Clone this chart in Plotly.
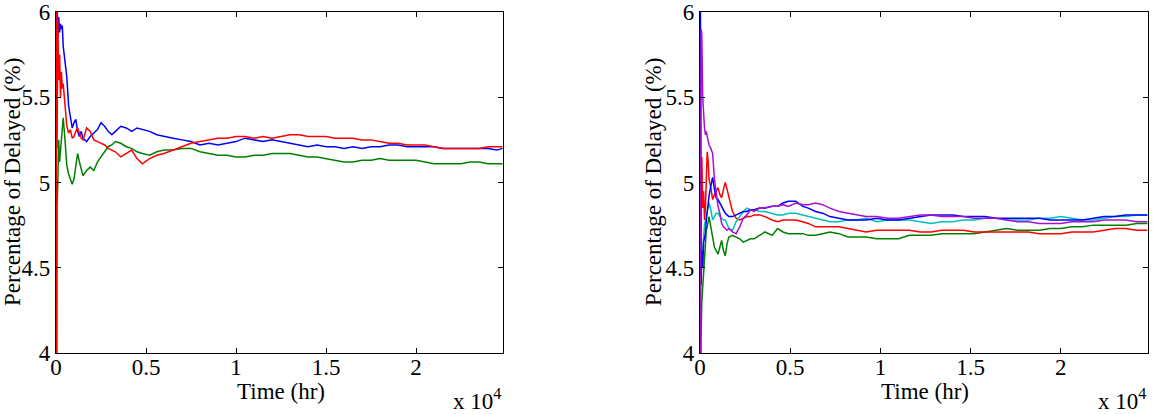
import plotly.graph_objects as go

# ---------------- data (hours, percent) ----------------
t_left = [0, 30, 60, 100, 150, 200, 250, 300, 350, 400, 500, 600, 700, 800, 900, 1000, 1100, 1200, 1300, 1400,
          1500, 1700, 1900, 2100, 2300, 2500, 2700, 2900, 3100, 3300, 3600, 3900, 4200, 4500, 4800, 5200, 5600,
          6000, 6500, 7000, 7500, 8000, 8500, 9000, 9500, 10000, 10500, 11000, 11500, 12000, 12500, 13000, 13500,
          14000, 14500, 15000, 15500, 16000, 16500, 17000, 17500, 18000, 18500, 19000, 19500, 20000, 20500, 21000,
          21500, 22000, 22500, 23000, 23500, 24000, 24500, 24800]

left_blue = [8.0, 6.4, 6.1, 5.85, 5.97, 5.88, 5.93, 5.90, 5.92, 5.80, 5.72, 5.62, 5.45, 5.38, 5.32, 5.35, 5.37, 5.30,
             5.27, 5.30, 5.26, 5.24, 5.27, 5.29, 5.31, 5.35, 5.33, 5.30, 5.28, 5.30, 5.33, 5.32, 5.30, 5.32, 5.31,
             5.30, 5.28, 5.27, 5.26, 5.25, 5.24, 5.22, 5.23, 5.22, 5.23, 5.24, 5.26, 5.25, 5.24, 5.25, 5.24, 5.23,
             5.22, 5.21, 5.22, 5.21, 5.21, 5.20, 5.21, 5.20, 5.21, 5.21, 5.22, 5.22, 5.21, 5.21, 5.21, 5.21, 5.20,
             5.20, 5.20, 5.20, 5.20, 5.20, 5.19, 5.20]

left_green = [0.0, 3.5, 4.87, 5.0, 5.25, 5.12, 5.19, 5.22, 5.33, 5.38, 5.25, 5.10, 5.05, 5.02, 4.99, 5.02, 5.10, 5.17,
              5.12, 5.08, 5.04, 5.07, 5.09, 5.07, 5.12, 5.15, 5.18, 5.21, 5.22, 5.24, 5.23, 5.21, 5.20, 5.18, 5.17,
              5.16, 5.18, 5.19, 5.19, 5.20, 5.20, 5.18, 5.17, 5.16, 5.16, 5.15, 5.15, 5.16, 5.16, 5.17, 5.17, 5.17,
              5.16, 5.15, 5.15, 5.14, 5.13, 5.12, 5.12, 5.13, 5.13, 5.14, 5.13, 5.13, 5.13, 5.13, 5.12, 5.11, 5.11,
              5.11, 5.11, 5.12, 5.12, 5.11, 5.11, 5.11]

left_red = [0.0, 6.5, 5.2, 5.95, 5.6, 5.75, 5.5, 5.65, 5.55, 5.58, 5.45, 5.33, 5.29, 5.31, 5.26, 5.27, 5.30, 5.32,
            5.29, 5.26, 5.25, 5.32, 5.30, 5.25, 5.24, 5.23, 5.22, 5.20, 5.19, 5.18, 5.15, 5.17, 5.19, 5.14, 5.11,
            5.14, 5.16, 5.17, 5.19, 5.21, 5.23, 5.24, 5.25, 5.26, 5.26, 5.27, 5.27, 5.26, 5.27, 5.26, 5.27, 5.28,
            5.28, 5.27, 5.27, 5.27, 5.26, 5.26, 5.26, 5.25, 5.25, 5.24, 5.23, 5.23, 5.22, 5.22, 5.22, 5.21, 5.20,
            5.20, 5.20, 5.20, 5.20, 5.21, 5.21, 5.21]

t_right = [0, 30, 60, 100, 150, 200, 250, 300, 350, 400, 450, 500, 600, 700, 800, 900, 1000, 1100, 1200, 1300,
           1400, 1500, 1600, 1800, 2000, 2200, 2400, 2600, 2800, 3000, 3300, 3600, 4000, 4300, 4600, 4900, 5300,
           5700, 6000, 6400, 6800, 7200, 7700, 8200, 8700, 9200, 9800, 10400, 11000, 11600, 12200, 12800, 13400,
           14000, 14600, 15200, 15800, 16400, 17000, 17600, 18200, 18800, 19400, 20000, 20600, 21200, 21800,
           22400, 23000, 23600, 24200, 24800]

right_blue = [7.0, 5.2, 4.4, 4.6, 4.5, 4.65, 4.68, 4.7, 4.78, 4.84, 4.86, 4.92, 4.98, 5.03, 4.96, 4.91, 4.90, 4.88,
              4.86, 4.84, 4.82, 4.81, 4.80, 4.80, 4.81, 4.82, 4.83, 4.83, 4.84, 4.84, 4.85, 4.85, 4.86, 4.86, 4.88,
              4.89, 4.89, 4.86, 4.85, 4.83, 4.82, 4.80, 4.79, 4.78, 4.78, 4.78, 4.79, 4.78, 4.78, 4.79, 4.80, 4.81,
              4.81, 4.81, 4.80, 4.80, 4.80, 4.79, 4.79, 4.79, 4.79, 4.79, 4.78, 4.78, 4.78, 4.78, 4.79, 4.80, 4.80,
              4.81, 4.81, 4.81]

right_red = [3.5, 4.6, 4.9, 5.15, 4.85, 4.95, 4.78, 4.85, 5.05, 5.18, 5.13, 5.02, 4.97, 4.90, 4.93, 4.95, 4.97, 4.93,
             4.91, 4.96, 5.00, 4.96, 4.92, 4.83, 4.79, 4.78, 4.79, 4.80, 4.80, 4.81, 4.81, 4.80, 4.78, 4.77, 4.78,
             4.78, 4.78, 4.77, 4.76, 4.74, 4.74, 4.74, 4.74, 4.73, 4.72, 4.71, 4.72, 4.72, 4.72, 4.72, 4.71, 4.71,
             4.72, 4.72, 4.72, 4.71, 4.71, 4.71, 4.71, 4.71, 4.71, 4.70, 4.70, 4.70, 4.71, 4.71, 4.71, 4.72, 4.73,
             4.73, 4.72, 4.72]

right_green = [2.0, 3.5, 4.1, 4.3, 4.39, 4.5, 4.6, 4.68, 4.72, 4.74, 4.77, 4.80, 4.74, 4.68, 4.62, 4.60, 4.58, 4.62,
               4.66, 4.60, 4.57, 4.64, 4.68, 4.69, 4.68, 4.67, 4.65, 4.66, 4.67, 4.67, 4.69, 4.71, 4.69, 4.73, 4.71,
               4.70, 4.70, 4.70, 4.69, 4.69, 4.70, 4.71, 4.70, 4.68, 4.68, 4.68, 4.67, 4.67, 4.67, 4.69, 4.69, 4.69,
               4.70, 4.70, 4.70, 4.70, 4.71, 4.72, 4.73, 4.72, 4.72, 4.72, 4.73, 4.73, 4.74, 4.74, 4.75, 4.75, 4.75,
               4.75, 4.76, 4.76]

right_cyan = [4.3, 4.5, 4.45, 4.55, 4.6, 4.68, 4.75, 4.78, 4.80, 4.82, 4.85, 4.88, 4.84, 4.78, 4.80, 4.82, 4.82, 4.80,
              4.79, 4.78, 4.78, 4.75, 4.73, 4.72, 4.77, 4.80, 4.83, 4.85, 4.84, 4.84, 4.83, 4.83, 4.82, 4.81, 4.81,
              4.82, 4.82, 4.81, 4.80, 4.79, 4.78, 4.77, 4.77, 4.78, 4.78, 4.79, 4.77, 4.78, 4.78, 4.78, 4.77, 4.76,
              4.77, 4.77, 4.78, 4.78, 4.79, 4.79, 4.78, 4.78, 4.78, 4.79, 4.79, 4.80, 4.79, 4.78, 4.78, 4.79, 4.80,
              4.80, 4.81, 4.81]

right_magenta = [3.0, 4.2, 5.9, 5.87, 5.5, 5.38, 5.32, 5.28, 5.3, 5.27, 5.25, 5.22, 5.2, 5.17, 5.02, 4.93, 4.86, 4.82,
                 4.76, 4.74, 4.73, 4.72, 4.73, 4.71, 4.70, 4.74, 4.79, 4.81, 4.84, 4.83, 4.85, 4.85, 4.86, 4.86,
                 4.87, 4.86, 4.88, 4.87, 4.87, 4.88, 4.87, 4.85, 4.83, 4.82, 4.81, 4.80, 4.80, 4.79, 4.79, 4.80,
                 4.81, 4.81, 4.80, 4.80, 4.80, 4.79, 4.79, 4.79, 4.78, 4.77, 4.77, 4.76, 4.76, 4.76, 4.77, 4.77,
                 4.77, 4.78, 4.78, 4.78, 4.77, 4.77]

x_tick_vals = [0, 5000, 10000, 15000, 20000]
x_tick_text = ["0", "0.5", "1", "1.5", "2"]
y_tick_vals = [4, 4.5, 5, 5.5, 6]
y_tick_text = ["4", "4.5", "5", "5.5", "6"]

# ---------------- figure ----------------
W, H = 1161, 414
FONT = "Times New Roman, Liberation Serif, serif"
FS = 23
LW = 1.5

fig = go.Figure()

def add(x, y, color, xa, ya):
    fig.add_trace(go.Scatter(x=x, y=y, mode="lines", line=dict(color=color, width=LW),
                             xaxis=xa, yaxis=ya, showlegend=False, hoverinfo="skip"))

add(t_left, left_blue, "#0000FF", "x", "y")
add(t_left, left_green, "#008000", "x", "y")
add(t_left, left_red, "#FF0000", "x", "y")

add(t_right, right_green, "#008000", "x2", "y2")
add(t_right, right_red, "#FF0000", "x2", "y2")
add(t_right, right_cyan, "#00BFBF", "x2", "y2")
add(t_right, right_blue, "#0000FF", "x2", "y2")
add(t_right, right_magenta, "#AA10D0", "x2", "y2")

def px_x(p):
    return p / W

def px_y(p):
    return 1 - p / H

tick_font = dict(family=FONT, size=FS, color="black")
xcommon = dict(range=[0, 24830], tickvals=x_tick_vals, ticktext=x_tick_text, ticks="inside", ticklen=5,
               tickwidth=1, tickcolor="black", showline=True, linecolor="black", linewidth=1.3, mirror="ticks",
               showgrid=False, zeroline=False, tickfont=tick_font, automargin=False, ticklabelstandoff=-7)
ycommon = dict(range=[4, 6], tickvals=y_tick_vals, ticktext=y_tick_text, ticks="inside", ticklen=5,
               tickwidth=1, tickcolor="black", showline=True, linecolor="black", linewidth=1.3, mirror="ticks",
               showgrid=False, zeroline=False, tickfont=tick_font, automargin=False)

fig.update_layout(
    template="none",
    width=W, height=H, margin=dict(l=0, r=0, t=0, b=0, pad=0, autoexpand=False),
    font=dict(family=FONT, size=FS, color="black"),
    paper_bgcolor="white", plot_bgcolor="white",
    xaxis=dict(domain=[px_x(56), px_x(503)], anchor="y", **xcommon),
    yaxis=dict(domain=[px_y(353), px_y(12)], anchor="x", **ycommon),
    xaxis2=dict(domain=[px_x(700), px_x(1148)], anchor="y2", **xcommon),
    yaxis2=dict(domain=[px_y(353), px_y(12)], anchor="x2", **ycommon),
)

ann_font = dict(family=FONT, size=FS, color="black")
for cx, ex, ylab_x in [(281, 503, 13), (925, 1148, 654)]:
    fig.add_annotation(text="Time (hr)", x=px_x(cx), y=px_y(391), xref="paper", yref="paper",
                       showarrow=False, xanchor="center", yanchor="middle", font=ann_font)
    fig.add_annotation(text="x 10<sup>4</sup>", x=px_x(ex), y=px_y(399), xref="paper", yref="paper",
                       showarrow=False, xanchor="right", yanchor="middle", font=ann_font)
    fig.add_annotation(text="Percentage of Delayed (%)", x=px_x(ylab_x), y=px_y(182), xref="paper",
                       yref="paper", showarrow=False, xanchor="center", yanchor="middle", textangle=-90,
                       font=ann_font)

fig.write_html("out.html")
